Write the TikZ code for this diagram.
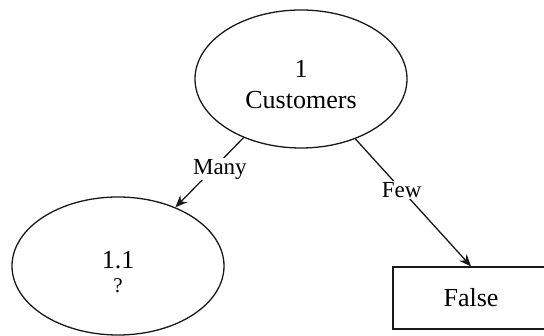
\documentclass[tikz,border=0pt]{standalone}
\usepackage{fontspec}
\setmainfont{Liberation Serif}
\usetikzlibrary{shapes.geometric,arrows.meta}
\definecolor{ink}{RGB}{25,25,25}
\tikzset{
 state/.style={draw=ink, line width=1.3pt, ellipse, minimum width=212pt, minimum height=138pt, inner sep=0pt, align=center, font=\fontsize{26}{31}\selectfont},
 leaf/.style={draw=ink, line width=1.3pt, rectangle, minimum width=156pt, minimum height=62pt, inner sep=0pt, font=\fontsize{26}{31}\selectfont},
 edge/.style={draw=ink, line width=1.3pt, -{Stealth[length=12pt,width=10pt]}},
 elabel/.style={fill=white, inner sep=1pt, font=\fontsize{23}{27}\selectfont}
}
\begin{document}
\begin{tikzpicture}[x=1pt,y=1pt]
\useasboundingbox (0,0) rectangle (544,336);
\clip (0,0) rectangle (544,336);
\node[state] (root) at (301,257) {\rule{0pt}{28pt}1\\Customers};
\node[state] (left) at (118,70) {\rule{0pt}{29pt}1.1\\[-7pt]{\fontsize{21}{25}\selectfont ?}};
\node[leaf] (false) at (471,38) {False};
\draw[edge] (root) -- node[elabel, pos=0.45, xshift=7pt] {Many} (left);
\draw[edge] (root) -- node[elabel, pos=0.40] {Few} (false.north);
\end{tikzpicture}
\end{document}
